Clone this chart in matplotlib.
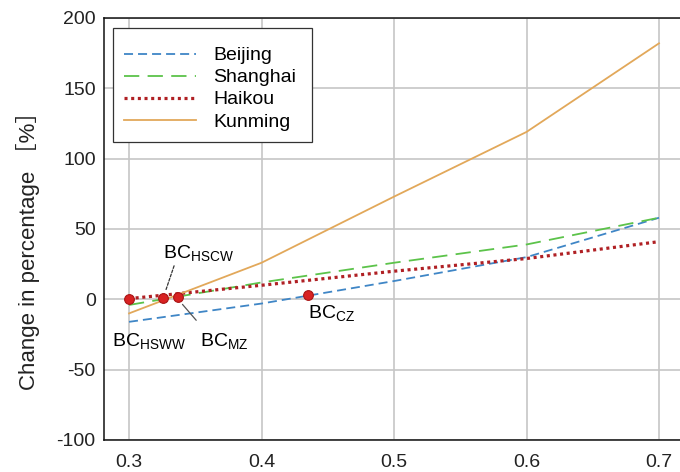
import matplotlib
matplotlib.use("Agg")
import matplotlib.pyplot as plt
from matplotlib.patches import Rectangle

plt.rcParams["font.family"] = ["Liberation Sans", "Noto Sans CJK JP", "DejaVu Sans"]
plt.rcParams["mathtext.fontset"] = "custom"
plt.rcParams["mathtext.rm"] = "Liberation Sans"
plt.rcParams["mathtext.it"] = "Liberation Sans:italic"
plt.rcParams["lines.scale_dashes"] = False

# Ratio values on the x axis
ratio = [0.3, 0.4, 0.5, 0.6, 0.7]

# Change in percentage for each city
beijing = [-16, -3, 13, 30, 58]
shanghai = [-4, 12, 26, 39, 58]
haikou = [0.5, 10, 20, 29, 41]
kunming = [-10, 26, 73, 119, 182]

# Balance points (BC) marked on the curves
bc_names = ["HSWW", "HSCW", "MZ", "CZ"]
bc_x = [0.300, 0.326, 0.337, 0.435]
bc_y = [0.5, 0.8, 1.4, 2.8]

x_ticks = [0.3, 0.4, 0.5, 0.6, 0.7]
y_ticks = [-100, -50, 0, 50, 100, 150, 200]

W, H = 680, 472
fig = plt.figure(figsize=(W / 100, H / 100), dpi=100)
ax = fig.add_axes([104 / W, 32 / H, (685.5 - 104) / W, 422 / H])

ax.plot(ratio, beijing, color="#3f86c6", lw=1.3, dashes=(6.5, 3.6), label="Beijing")
ax.plot(ratio, shanghai, color="#5cc34a", lw=1.3, dashes=(11, 6), label="Shanghai")
ax.plot(ratio, haikou, color="#b02024", lw=2.3, dashes=(2.2, 2.6), label="Haikou")
ax.plot(ratio, kunming, color="#e2a85a", lw=1.3, label="Kunming")

ax.plot(bc_x, bc_y, ls="none", marker="o", ms=7, color="#d82222",
        mec="#a81414", mew=0.8, zorder=5)

# Leader lines from labels to their points
ax.annotate("", xy=(bc_x[1] + 0.001, bc_y[1] + 3.5), xytext=(0.3347, 25.7),
            arrowprops=dict(arrowstyle="-", color="#333333", lw=0.9, ls=(0, (2, 1.2))))
ax.annotate("", xy=(bc_x[2] + 0.002, bc_y[2] - 3.5), xytext=(0.3521, -16.4),
            arrowprops=dict(arrowstyle="-", color="#555555", lw=0.9))

fs = 14
ax.text(0.2872, -32.9, r"BC$_{\mathrm{HSWW}}$", fontsize=fs, ha="left", va="baseline")
ax.text(0.3257, 29.3, r"BC$_{\mathrm{HSCW}}$", fontsize=fs, ha="left", va="baseline")
ax.text(0.3536, -32.9, r"BC$_{\mathrm{MZ}}$", fontsize=fs, ha="left", va="baseline")
ax.text(0.4351, -13.6, r"BC$_{\mathrm{CZ}}$", fontsize=fs, ha="left", va="baseline")

ax.set_xlim(0.3 - 25 / 1325, 0.72)
ax.set_ylim(-100, 200)
ax.set_xticks(x_ticks)
ax.set_xticklabels([f"{v:.1f}" for v in x_ticks])
ax.set_yticks(y_ticks)
ax.set_yticklabels([str(v) for v in y_ticks])
ax.tick_params(axis="both", length=0, labelsize=14, colors="#222222")
ax.tick_params(axis="y", pad=6)
ax.tick_params(axis="x", pad=10)

ax.grid(True, color="#c6c6c6", lw=1.2)
ax.set_axisbelow(True)
for side in ("left", "bottom", "top"):
    ax.spines[side].set_color("#111111")
    ax.spines[side].set_linewidth(1.1)
ax.spines["right"].set_visible(False)

ax.set_ylabel("Change in percentage ［%］", fontsize=16, color="#222222")
ax.yaxis.set_label_coords(-(104 - 40) / (685.5 - 104), 0.5 + (229 - 245) / 422)

# Legend frame (white box) and entries
box = Rectangle((113 / W, 1 - 142 / H), 199 / W, 114 / H, transform=fig.transFigure,
                facecolor="white", edgecolor="#333333", lw=0.9, zorder=4, clip_on=False)
ax.add_patch(box)
leg = ax.legend(loc="upper left", bbox_to_anchor=(113 / W, 1 - 36 / H),
                bbox_transform=fig.transFigure, borderaxespad=0,
                fontsize=14, frameon=False, handlelength=3.7, handletextpad=0.9,
                labelspacing=0.23, borderpad=0.55)
leg.set_zorder(6)

fig.savefig("out.png", dpi=100)
